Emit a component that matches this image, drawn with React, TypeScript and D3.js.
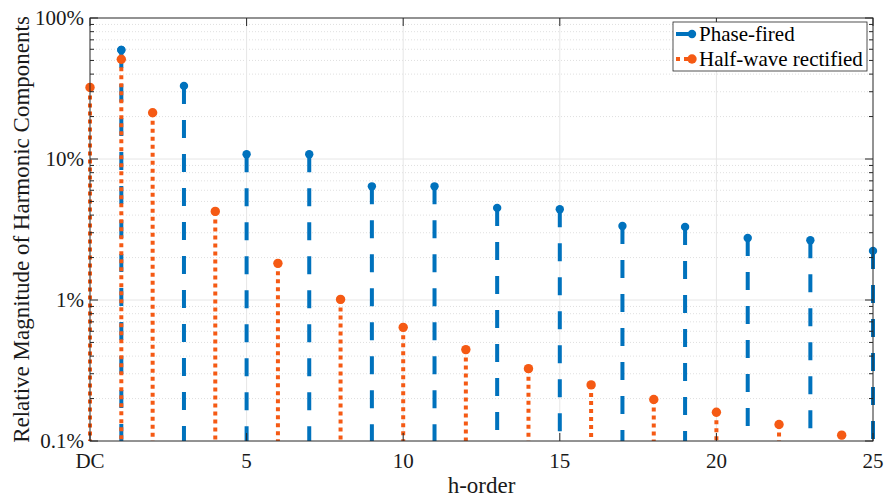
import React from 'react';
import * as d3 from 'd3';

// harmonic orders and magnitudes (%)
const phaseOrders = [1, 3, 5, 7, 9, 11, 13, 15, 17, 19, 21, 23, 25];
const phaseValues = [59.3, 33, 10.8, 10.8, 6.4, 6.4, 4.5, 4.4, 3.35, 3.3, 2.75, 2.65, 2.23];
const halfOrders = [0, 1, 2, 4, 6, 8, 10, 12, 14, 16, 18, 20, 22, 24];
const halfValues = [32.2, 51, 21.3, 4.25, 1.82, 1.01, 0.64, 0.445, 0.326, 0.25, 0.197, 0.16, 0.131, 0.11];
const xTicks = [0, 5, 10, 15, 20, 25];
const xTickLabels = ['DC', '5', '10', '15', '20', '25'];
const yTicks = [0.1, 1, 10, 100];
const yTickLabels = ['0.1%', '1%', '10%', '100%'];
const seriesNames = ['Phase-fired', 'Half-wave rectified'];

const W = 884, H = 498;
const left = 90, right = 873, top = 18, bottom = 441;
const blue = '#0072BD';
const orange = '#F55A14';
const font = '"Liberation Serif", "Times New Roman", serif';

export default function App() {
    const x = d3.scaleLinear().domain([0, 25]).range([left, right]);
    const y = d3.scaleLog().domain([0.1, 100]).range([bottom, top]);

    // minor log ticks
    const minor: number[] = [];
    [0.1, 1, 10].forEach(d => {
        for (let k = 2; k <= 9; k++) minor.push(d * k);
    });

    return (
        <svg width={W} height={H} style={{ position: 'absolute', left: 0, top: 0, background: '#fff' }}>
            <rect x={0} y={0} width={W} height={H} fill="#fff" />
            {/* grid */}
            {minor.map((m, i) => (
                <line key={'mg' + i} x1={left} x2={right} y1={y(m)} y2={y(m)}
                    stroke="#d8d8d8" strokeWidth={0.8} strokeDasharray="1,2" />
            ))}
            {yTicks.slice(1, 3).map((t, i) => (
                <line key={'yg' + i} x1={left} x2={right} y1={y(t)} y2={y(t)} stroke="#e6e6e6" strokeWidth={1} />
            ))}
            {xTicks.slice(1, 5).map((t, i) => (
                <line key={'xg' + i} x1={x(t)} x2={x(t)} y1={top} y2={bottom} stroke="#e6e6e6" strokeWidth={1} />
            ))}

            {/* phase-fired stems */}
            {phaseOrders.map((h, i) => (
                <g key={'p' + i}>
                    <line x1={x(h)} x2={x(h)} y1={y(phaseValues[i])} y2={bottom}
                        stroke={blue} strokeWidth={4} strokeDasharray="18,16" />
                    <circle cx={x(h)} cy={y(phaseValues[i])} r={4.2} fill={blue} />
                </g>
            ))}
            {/* half-wave stems */}
            {halfOrders.map((h, i) => (
                <g key={'h' + i}>
                    <line x1={x(h)} x2={x(h)} y1={y(halfValues[i])} y2={bottom}
                        stroke={orange} strokeWidth={4} strokeDasharray="4,4" />
                    <circle cx={x(h)} cy={y(halfValues[i])} r={4.7} fill={orange} />
                </g>
            ))}
            {/* blue marker at h=1 stays on top */}
            <circle cx={x(phaseOrders[0])} cy={y(phaseValues[0])} r={4.2} fill={blue} />

            {/* axes box */}
            <rect x={left} y={top} width={right - left} height={bottom - top} fill="none" stroke="#262626" strokeWidth={1} />
            {/* y ticks */}
            {yTicks.map((t, i) => (
                <g key={'yt' + i}>
                    <line x1={left} x2={left + 8} y1={y(t)} y2={y(t)} stroke="#262626" />
                    <line x1={right} x2={right - 8} y1={y(t)} y2={y(t)} stroke="#262626" />
                    <text x={left - 6} y={y(t) + 7} textAnchor="end" fontFamily={font} fontSize={21} fill="#1a1a1a">{yTickLabels[i]}</text>
                </g>
            ))}
            {minor.map((m, i) => (
                <g key={'ym' + i}>
                    <line x1={left} x2={left + 4} y1={y(m)} y2={y(m)} stroke="#262626" />
                    <line x1={right} x2={right - 4} y1={y(m)} y2={y(m)} stroke="#262626" />
                </g>
            ))}
            {/* x ticks */}
            {xTicks.map((t, i) => (
                <g key={'xt' + i}>
                    <line x1={x(t)} x2={x(t)} y1={bottom} y2={bottom - 8} stroke="#262626" />
                    <line x1={x(t)} x2={x(t)} y1={top} y2={top + 8} stroke="#262626" />
                    <text x={x(t)} y={bottom + 27} textAnchor="middle" fontFamily={font} fontSize={21} fill="#1a1a1a">{xTickLabels[i]}</text>
                </g>
            ))}
            {/* labels */}
            <text x={(left + right) / 2} y={493} textAnchor="middle" fontFamily={font} fontSize={23} fill="#1a1a1a">h-order</text>
            <text transform={`translate(29,${(top + bottom) / 2}) rotate(-90)`} textAnchor="middle"
                fontFamily={font} fontSize={23} fill="#1a1a1a">Relative Magnitude of Harmonic Components</text>

            {/* legend */}
            <g>
                <rect x={673} y={22} width={194} height={49} fill="#fff" stroke="#262626" strokeWidth={0.8} />
                <line x1={676} x2={692} y1={34} y2={34} stroke={blue} strokeWidth={4} />
                <circle cx={692} cy={34} r={4.2} fill={blue} />
                <text x={699} y={41} fontFamily={font} fontSize={21} fill="#000">{seriesNames[0]}</text>
                <line x1={676} x2={692} y1={59} y2={59} stroke={orange} strokeWidth={4} strokeDasharray="4,4" />
                <circle cx={692} cy={59} r={4.7} fill={orange} />
                <text x={699} y={66} fontFamily={font} fontSize={21} fill="#000">{seriesNames[1]}</text>
            </g>
        </svg>
    );
}
